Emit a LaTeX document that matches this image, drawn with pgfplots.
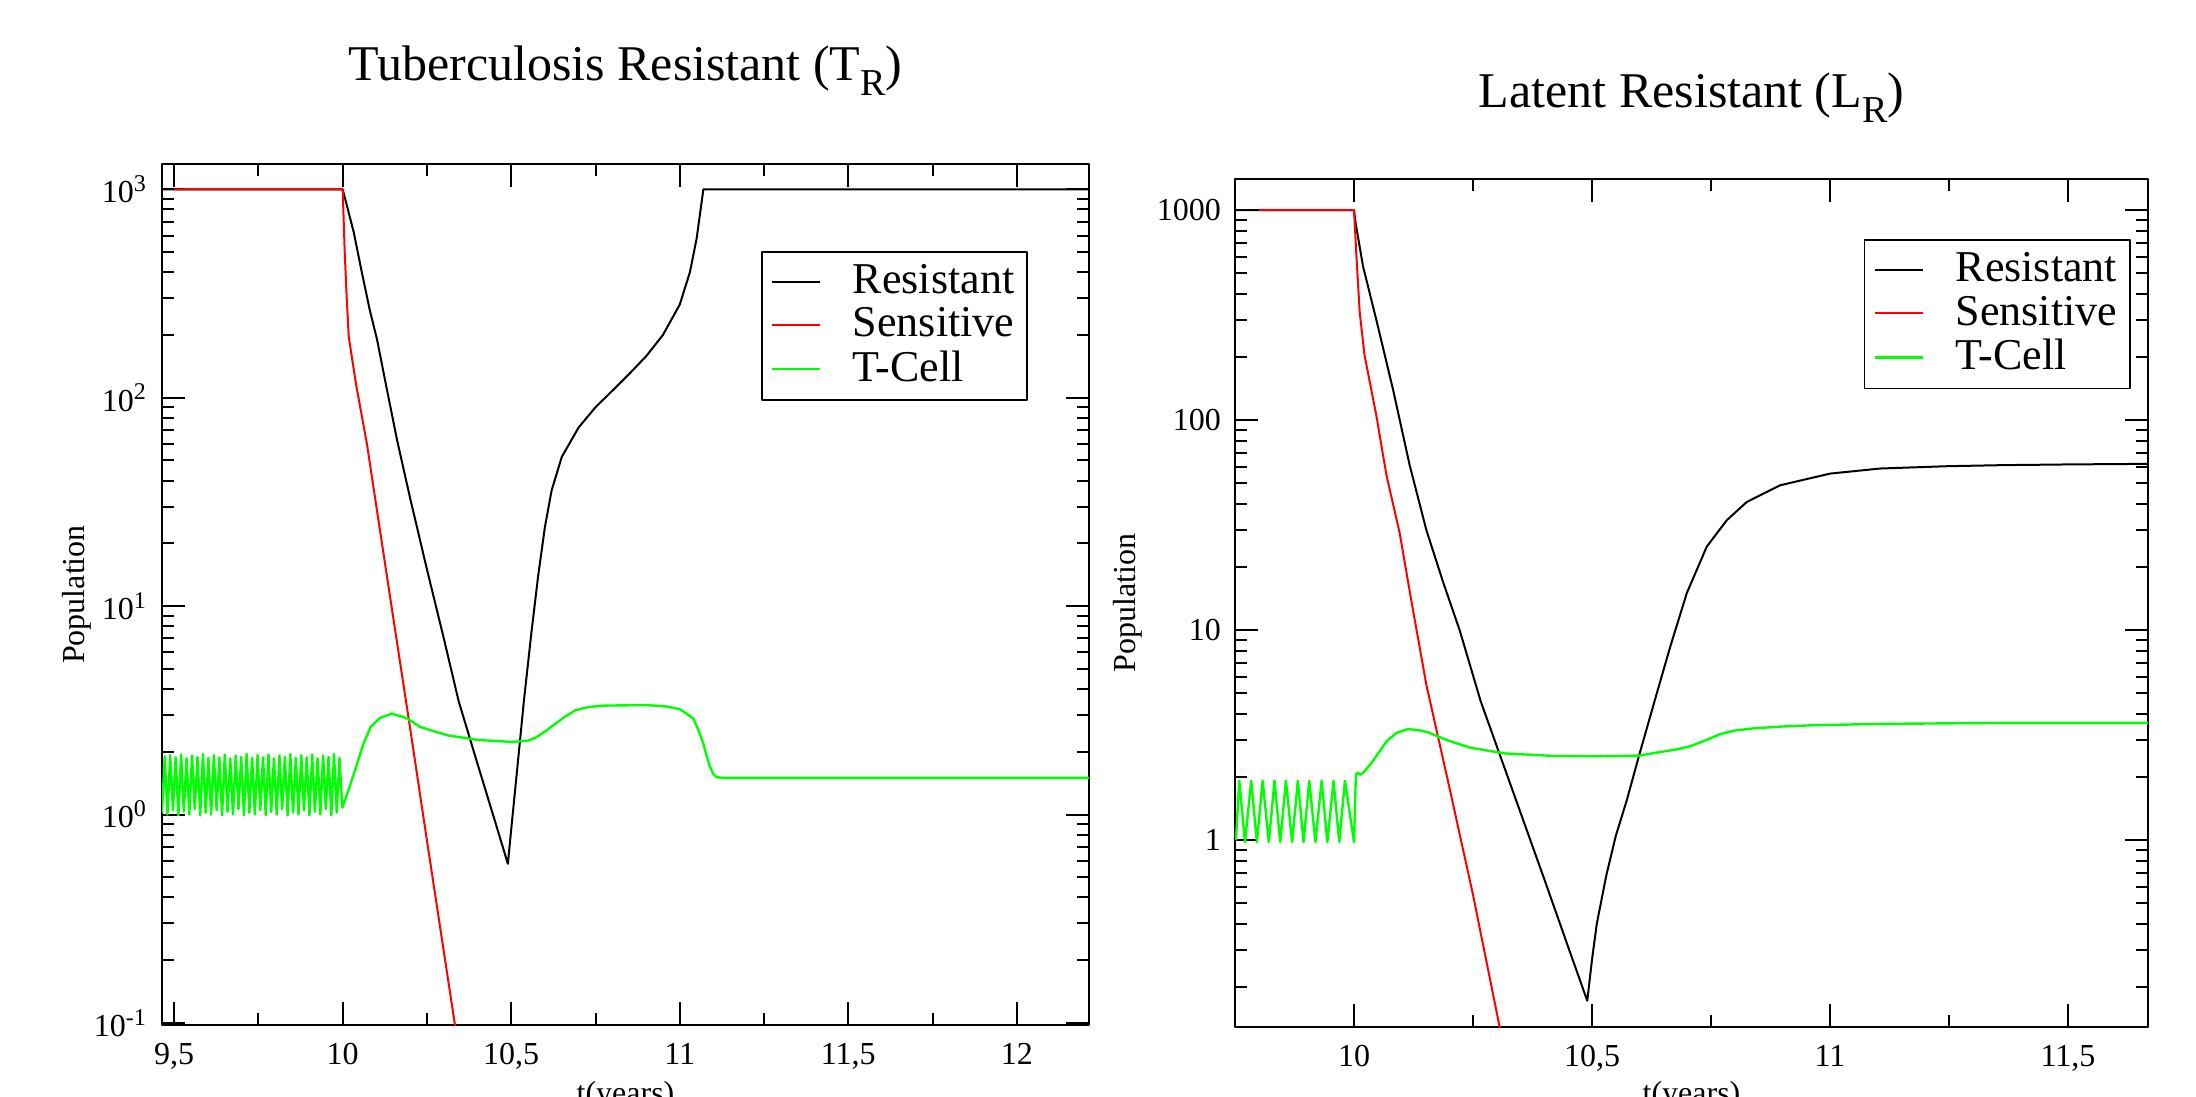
\documentclass[border=0pt]{standalone}
\usepackage{fontspec}
\setmainfont{Liberation Serif}
\usepackage{pgfplots}
\pgfplotsset{compat=1.18}

\definecolor{grred}{RGB}{255,0,0}
\definecolor{grgreen}{RGB}{0,255,0}

% xmgrace-like look shared by both panels
\pgfplotsset{
  grace/.style={
    scale only axis,
    tick align=inside,
    major tick length=5.75pt,
    minor tick length=2.9pt,
    axis line style={line width=0.6pt},
    every tick/.append style={black, line width=0.5pt},
    tick label style={font=\fontsize{8}{9}\selectfont},
    xticklabel style={yshift=-1pt, /pgf/number format/use comma, /pgf/number format/assume math mode=true},
    minor x tick num=1,
    legend cell align=left,
    legend image code/.code={\draw[##1] (0pt,0pt) -- (12pt,0pt);},
    legend style={font=\fontsize{11}{11}\selectfont, draw=black, line width=0.4pt,
      inner sep=2.2pt, column sep=7pt, row sep=0pt, anchor=north east,
      nodes={inner sep=1.0pt}},
    title style={font=\fontsize{12.5}{14}\selectfont, anchor=base, at={(0.5,1)}},
  },
}
\newcommand{\sub}[1]{\raisebox{-0.3em}{\fontsize{9.5}{10}\selectfont #1}}

\begin{document}
\begin{tikzpicture}[line join=round]
\path[use as bounding box] (-40.5pt,-17.75pt) rectangle (508.5pt,256.25pt);

% ---------- left: Tuberculosis Resistant ----------
\begin{axis}[ymode=log, grace, name=L, at={(0pt,0pt)}, anchor=south west,
  width=231.75pt, height=215.25pt,
  xmin=9.464, xmax=12.214, ymin=0.0977, ymax=1322,
  xtick={9.5,10,10.5,11,11.5,12},
  ytick={0.1,1,10,100,1000},
  yticklabels={10\textsuperscript{-1},10\textsuperscript{0},10\textsuperscript{1},10\textsuperscript{2},10\textsuperscript{3}},
  minor ytick={0.2,0.3,0.4,0.5,0.6,0.7,0.8,0.9,2,3,4,5,6,7,8,9,20,30,40,50,60,70,80,90,200,300,400,500,600,700,800,900},
  title={Tuberculosis Resistant (T\sub{R})},
  title style={yshift=15pt},
  legend style={at={(0.934,0.899)}},
]
\addplot[black, line width=0.5pt] coordinates {(9.464,1000) (10.0,1000) (10.013,830) (10.033,620) (10.057,398) (10.08,265) (10.102,190) (10.13,112) (10.161,63) (10.2,33) (10.25,15) (10.3,7) (10.344,3.5) (10.4,1.75) (10.45,0.95) (10.49,0.58) (10.5,0.85) (10.52,1.8) (10.5375,3.5) (10.56,7.5) (10.58,14) (10.6,24) (10.62,36) (10.65,52) (10.7,72) (10.75,90) (10.8,108) (10.85,130) (10.9,158) (10.95,200) (11.0,280) (11.03,400) (11.05,580) (11.07,1000) (12.214,1000)};
\addlegendentry{Resistant}
\addplot[grred, line width=0.5pt] coordinates {(9.5,1000) (10.0,1000) (10.006,500) (10.012,300) (10.018,196) (10.04,115) (10.072,60) (10.1,30) (10.15,8.8) (10.2,2.6) (10.25,0.75) (10.3,0.22) (10.333,0.098) (10.36,0.05)};
\addlegendentry{Sensitive}
\addplot[grgreen, line width=0.6pt] coordinates {(9.464,1.02) (9.4721,1.90) (9.4802,1.00) (9.4883,1.93) (9.4964,1.05) (9.5045,1.88) (9.5126,0.99) (9.5207,1.94) (9.5288,1.03) (9.5369,1.86) (9.545,1.00) (9.5531,1.92) (9.5612,1.06) (9.5693,1.89) (9.5774,0.99) (9.5855,1.95) (9.5936,1.02) (9.6017,1.87) (9.6098,1.00) (9.6179,1.93) (9.626,1.05) (9.6341,1.88) (9.6422,0.99) (9.6503,1.94) (9.6584,1.03) (9.6665,1.86) (9.6746,1.00) (9.6827,1.92) (9.6908,1.06) (9.6989,1.89) (9.707,0.99) (9.7151,1.95) (9.7232,1.02) (9.7313,1.87) (9.7394,1.00) (9.7475,1.93) (9.7556,1.05) (9.7637,1.88) (9.7718,0.99) (9.7799,1.94) (9.788,1.03) (9.7961,1.86) (9.8042,1.00) (9.8123,1.92) (9.8204,1.06) (9.8285,1.89) (9.8366,0.99) (9.8447,1.95) (9.8528,1.02) (9.8609,1.87) (9.869,1.00) (9.8771,1.93) (9.8852,1.05) (9.8933,1.88) (9.9014,0.99) (9.9095,1.94) (9.9176,1.03) (9.9257,1.86) (9.9338,1.00) (9.9419,1.92) (9.95,1.06) (9.9581,1.89) (9.9662,0.99) (9.9743,1.95) (9.9824,1.02) (9.9905,1.87) (9.9986,1.08) (10.0,1.09) (10.02,1.35) (10.04,1.69) (10.06,2.15) (10.083,2.63) (10.11,2.9) (10.146,3.05) (10.19,2.9) (10.23,2.63) (10.31,2.4) (10.4,2.28) (10.5,2.23) (10.55,2.26) (10.575,2.35) (10.6,2.5) (10.625,2.68) (10.66,2.95) (10.69,3.16) (10.73,3.28) (10.77,3.33) (10.9,3.35) (10.96,3.3) (11.0,3.2) (11.02,3.05) (11.04,2.89) (11.055,2.55) (11.07,2.19) (11.08,1.9) (11.09,1.69) (11.1,1.56) (11.11,1.51) (11.13,1.5) (12.214,1.5)};
\addlegendentry{T-Cell}
\end{axis}

% ---------- right: Latent Resistant ----------
\begin{axis}[ymode=log, grace, name=R, at={(268.25pt,-0.5pt)}, anchor=south west,
  width=228.25pt, height=212pt,
  xmin=9.75, xmax=11.668, ymin=0.129, ymax=1409,
  xtick={10,10.5,11,11.5},
  ytick={1,10,100,1000},
  yticklabels={1,10,100,1000},
  minor ytick={0.2,0.3,0.4,0.5,0.6,0.7,0.8,0.9,2,3,4,5,6,7,8,9,20,30,40,50,60,70,80,90,200,300,400,500,600,700,800,900},
  title={Latent Resistant (L\sub{R})},
  title style={yshift=11.75pt},
  legend style={at={(0.981,0.929)}},
]
\addplot[black, line width=0.5pt] coordinates {(9.75,1000) (10.0,1000) (10.003,880) (10.008,755) (10.019,540) (10.047,300) (10.082,140) (10.117,61) (10.152,30) (10.187,17) (10.222,10) (10.266,4.6) (10.3,2.8) (10.35,1.35) (10.4,0.65) (10.45,0.31) (10.49,0.172) (10.5,0.27) (10.51,0.40) (10.53,0.68) (10.55,1.05) (10.573,1.55) (10.599,2.54) (10.636,5.0) (10.664,8.3) (10.699,15) (10.741,25) (10.783,33.4) (10.825,40.8) (10.895,49) (11.0,55.7) (11.105,58.9) (11.245,60.4) (11.357,61.1) (11.5,61.6) (11.668,62)};
\addlegendentry{Resistant}
\addplot[grred, line width=0.5pt] coordinates {(9.8,1000) (10.0,1000) (10.005,611) (10.012,326) (10.022,205) (10.047,105) (10.068,55) (10.096,29) (10.12,14) (10.152,5.5) (10.2,1.8) (10.25,0.55) (10.306,0.129) (10.33,0.07)};
\addlegendentry{Sensitive}
\addplot[grgreen, line width=0.6pt] coordinates {(9.752,1.0) (9.759,1.92) (9.771,0.98) (9.784,1.92) (9.796,0.98) (9.808,1.92) (9.821,0.98) (9.833,1.92) (9.845,0.98) (9.857,1.92) (9.870,0.98) (9.882,1.92) (9.894,0.98) (9.906,1.92) (9.919,0.98) (9.932,1.92) (9.944,0.98) (9.957,1.92) (9.969,0.98) (9.981,1.92) (10.0,0.98) (10.004,2.06) (10.008,2.1) (10.013,2.05) (10.02,2.1) (10.04,2.39) (10.069,2.97) (10.09,3.25) (10.113,3.38) (10.135,3.35) (10.156,3.26) (10.2,2.97) (10.244,2.76) (10.317,2.59) (10.42,2.52) (10.52,2.51) (10.6,2.53) (10.643,2.63) (10.675,2.7) (10.706,2.8) (10.74,3.0) (10.769,3.2) (10.8,3.33) (10.839,3.41) (10.9,3.48) (10.965,3.53) (11.1,3.58) (11.357,3.62) (11.668,3.62)};
\addlegendentry{T-Cell}
\end{axis}

% axis labels (the x labels run off the bottom edge, as in the original)
\node[font=\fontsize{8}{9}\selectfont, rotate=90, anchor=center] at ([xshift=-21.25pt]L.west) {Population};
\node[font=\fontsize{8}{9}\selectfont, rotate=90, anchor=center] at ([xshift=-26.9pt]R.west) {Population};
\node[font=\fontsize{8}{9}\selectfont, anchor=north, inner sep=0pt] at ([yshift=-13.75pt]L.south) {t(years)};
\node[font=\fontsize{8}{9}\selectfont, anchor=north, inner sep=0pt] at ([yshift=-13.25pt]R.south) {t(years)};
\end{tikzpicture}
\end{document}
